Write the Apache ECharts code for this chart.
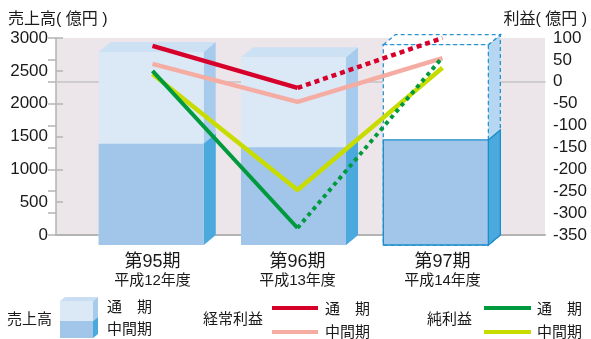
<!DOCTYPE html>
<html>
<head>
<meta charset="utf-8">
<script src="https://cdn.jsdelivr.net/npm/echarts@6/dist/echarts.min.js"></script>
<style>
html,body{margin:0;padding:0;background:#fff;}
#c{width:591px;height:339px;}
</style>
</head>
<body>
<div id="c"></div>
<script>
// ---- data ----
const periods = ['第95期', '第96期', '第97期'];
const fiscalYears = ['平成12年度', '平成13年度', '平成14年度'];
const salesFull = [2940, 2860, 3050];       // 売上高 通期 (億円)
const salesInterim = [1540, 1490, 1600];    // 売上高 中間期
const ordinaryFull = [82, -14, 100];        // 経常利益 通期
const ordinaryInterim = [41, -46, 54];      // 経常利益 中間期
const netFull = [25, -334, 56];             // 純利益 通期
const netInterim = [18, -247, 32];          // 純利益 中間期
const forecast = [false, false, true];      // 第97期 通期 = forecast
const salesTicks = { min: 0, max: 3000, interval: 500 };
const profitTicks = { min: -350, max: 100, interval: 50 };

const FONT = '"Liberation Sans", "Noto Sans CJK JP", sans-serif';
const DX = 12, DY = 10;

const actualPart = arr => arr.map((v, i) => forecast[i] ? null : v);
const forecastPart = arr => arr.map((v, i) => (forecast[i] || forecast[i + 1]) ? v : null);

function barRender(kind) {
  return function (params, api) {
    const i = api.value(0), v = api.value(1);
    const top = api.coord([i, v]);
    const base = api.coord([i, 0]);
    const bw = api.size([1, 0])[0] * 0.738;
    const x0 = top[0] - bw / 2, x1 = top[0] + bw / 2;
    const yT = top[1] + DY, yB = base[1] + DY;
    const fc = forecast[params.dataIndex];
    const children = [];
    if (kind === 'full') {
      const st = fc ? { stroke: '#2a94d2', lineWidth: 1.3, lineDash: [4, 3] } : { lineWidth: 0 };
      children.push({ type: 'polygon', shape: { points: [[x1, yT], [x1 + DX, yT - DY], [x1 + DX, yB - DY], [x1, yB]] },
        style: Object.assign({ fill: fc ? '#b6d7f1' : '#a7cbec' }, st) });
      children.push({ type: 'polygon', shape: { points: [[x0, yT], [x0 + DX, yT - DY], [x1 + DX, yT - DY], [x1, yT]] },
        style: Object.assign({ fill: fc ? '#ffffff' : '#cde1f4' }, st) });
      children.push({ type: 'rect', shape: { x: x0, y: yT, width: bw, height: yB - yT },
        style: Object.assign({ fill: fc ? '#ffffff' : '#dbe8f6' }, st) });
    } else {
      const st = fc ? { stroke: '#1b8ccc', lineWidth: 1.3 } : { lineWidth: 0 };
      children.push({ type: 'polygon', shape: { points: [[x1, yT], [x1 + DX, yT - DY], [x1 + DX, yB - DY], [x1, yB]] },
        style: Object.assign({ fill: '#4ca9dd' }, st) });
      children.push({ type: 'rect', shape: { x: x0, y: yT, width: bw, height: yB - yT },
        style: Object.assign({ fill: '#a1c6ea' }, st) });
    }
    return { type: 'group', children: children };
  };
}

function lineSeries(data, color, dash, width) {
  return {
    type: 'line', xAxisIndex: 2, yAxisIndex: 3, data: data, symbol: 'none', silent: true,
    lineStyle: { color: color, width: width, type: dash || 'solid', cap: 'butt' }, z: 5
  };
}

const chart = echarts.init(document.getElementById('c'), null, { renderer: 'canvas' });
const txt = (text, x, y, size, align) => ({
  type: 'text', silent: true,
  style: { text: text, x: x, y: y, font: size + 'px ' + FONT, fill: '#1a1a1a', textAlign: align || 'left', textVerticalAlign: 'middle' }
});

chart.setOption({
  animation: false,
  backgroundColor: '#ffffff',
  grid: [
    { left: 56, right: 46, top: 38, bottom: 104, show: true, backgroundColor: '#ece6ea', borderWidth: 0 },
    { left: 80, right: 76, top: 38, bottom: 104 },
    { left: 80, right: 84, top: 38, bottom: 104 }
  ],
  xAxis: [
    { gridIndex: 0, type: 'value', min: 0, max: 1, position: 'bottom', splitLine: { show: false }, axisTick: { show: false }, axisLabel: { show: false },
      axisLine: { show: true, lineStyle: { color: '#b4b4b4', width: 2 } } },
    { gridIndex: 0, type: 'value', min: 0, max: 1, position: 'top', splitLine: { show: false }, axisTick: { show: false }, axisLabel: { show: false },
      axisLine: { show: true, lineStyle: { color: '#c4c4c4', width: 1.5 } } },
    { gridIndex: 1, type: 'category', data: periods, axisLine: { show: false }, axisTick: { show: false },
      axisLabel: { margin: 17, formatter: (v, i) => '{a|' + periods[i] + '}\n{b|' + fiscalYears[i] + '}',
        rich: { a: { fontSize: 18, lineHeight: 20, fontFamily: FONT, color: '#1a1a1a', align: 'center' },
                b: { fontSize: 15, lineHeight: 18, fontFamily: FONT, color: '#1a1a1a', align: 'center' } } } },
    { gridIndex: 2, type: 'category', data: periods, show: false }
  ],
  yAxis: [
    { gridIndex: 0, type: 'value', position: 'left', min: salesTicks.min, max: salesTicks.max, interval: salesTicks.interval,
      splitLine: { show: false }, axisLine: { show: false },
      axisTick: { show: true, inside: true, length: 7, lineStyle: { color: '#b4b4b4', width: 1.5 } },
      axisLabel: { margin: 8, fontSize: 17, fontFamily: FONT, color: '#1a1a1a', formatter: v => String(v) } },
    { gridIndex: 0, type: 'value', position: 'right', min: profitTicks.min, max: profitTicks.max, interval: profitTicks.interval,
      splitLine: { show: false }, axisLine: { show: true, lineStyle: { color: '#b4b4b4', width: 1.5 } },
      axisTick: { show: true, inside: true, length: 8, lineStyle: { color: '#b4b4b4', width: 1.5 } },
      axisLabel: { margin: 8, fontSize: 17, fontFamily: FONT, color: '#1a1a1a', formatter: v => String(v) } },
    { gridIndex: 1, type: 'value', min: salesTicks.min, max: salesTicks.max, show: false },
    { gridIndex: 1, type: 'value', min: profitTicks.min, max: profitTicks.max, show: false },
    { gridIndex: 2, type: 'value', min: salesTicks.min, max: salesTicks.max, show: false }
  ],
  series: [
    { type: 'custom', name: '売上高 通期', xAxisIndex: 3, yAxisIndex: 4, renderItem: barRender('full'),
      data: salesFull.map((v, i) => [i, v]), encode: { x: 0, y: 1 }, z: 3, silent: true },
    { type: 'custom', name: '売上高 中間期', xAxisIndex: 3, yAxisIndex: 4, renderItem: barRender('mid'),
      data: salesInterim.map((v, i) => [i, v]), encode: { x: 0, y: 1 }, z: 4, silent: true },
    lineSeries(ordinaryInterim, '#f5aca2', null, 4.5),
    lineSeries(actualPart(ordinaryFull), '#d7002b', null, 4.5),
    lineSeries(forecastPart(ordinaryFull), '#d7002b', [5, 4], 4.5),
    lineSeries(netInterim, '#c8dc00', null, 4.5),
    lineSeries(actualPart(netFull), '#009a3e', null, 4),
    lineSeries(forecastPart(netFull), '#009a3e', [4, 4], 4)
  ],
  graphic: [
    txt('売上高( 億円 )', 8, 20, 16),
    txt('利益( 億円 )', 587, 20, 16, 'right'),
    // legend: 売上高
    txt('売上高', 7, 320, 15),
    { type: 'polygon', silent: true, shape: { points: [[60, 301], [65, 297], [98, 297], [93, 301]] }, style: { fill: '#c9def3' } },
    { type: 'rect', silent: true, shape: { x: 60, y: 301, width: 33, height: 20 }, style: { fill: '#dbe8f6' } },
    { type: 'rect', silent: true, shape: { x: 60, y: 321, width: 33, height: 17 }, style: { fill: '#a1c6ea' } },
    { type: 'polygon', silent: true, shape: { points: [[93, 301], [98, 297], [98, 317], [93, 321]] }, style: { fill: '#a7cbec' } },
    { type: 'polygon', silent: true, shape: { points: [[93, 321], [98, 317], [98, 334], [93, 338]] }, style: { fill: '#4ca9dd' } },
    txt('通　期', 107, 308, 15),
    txt('中間期', 107, 330, 15),
    // legend: 経常利益
    txt('経常利益', 203, 320, 15),
    { type: 'line', silent: true, shape: { x1: 272, y1: 308, x2: 318, y2: 308 }, style: { stroke: '#d7002b', lineWidth: 4 } },
    { type: 'line', silent: true, shape: { x1: 272, y1: 332, x2: 318, y2: 332 }, style: { stroke: '#f5aca2', lineWidth: 4 } },
    txt('通　期', 325, 310, 15),
    txt('中間期', 325, 333, 15),
    // legend: 純利益
    txt('純利益', 427, 320, 15),
    { type: 'line', silent: true, shape: { x1: 484, y1: 308, x2: 531, y2: 308 }, style: { stroke: '#009a3e', lineWidth: 4 } },
    { type: 'line', silent: true, shape: { x1: 484, y1: 332, x2: 531, y2: 332 }, style: { stroke: '#c8dc00', lineWidth: 4 } },
    txt('通　期', 537, 310, 15),
    txt('中間期', 537, 333, 15)
  ]
});
</script>
</body>
</html>
